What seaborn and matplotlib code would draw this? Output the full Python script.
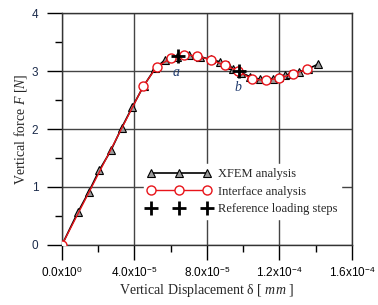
import numpy as np
import matplotlib
matplotlib.use('Agg')
import matplotlib.pyplot as plt
import seaborn as sns
from matplotlib.ticker import MultipleLocator, FixedLocator

# Datos (desplazamiento en mm, fuerza en N)
xfem_x = [0.0, 8.7e-6, 14.7e-6, 20.6e-6, 27.0e-6, 32.9e-6, 38.8e-6, 45.0e-6,
          51.5e-6, 56.8e-6, 63.5e-6, 70.0e-6, 76.0e-6, 82.0e-6, 87.2e-6,
          91.8e-6, 94.5e-6, 99.0e-6, 104.0e-6, 109.0e-6, 116.6e-6, 119.5e-6,
          123.0e-6, 126.0e-6, 131.0e-6, 136.0e-6, 141.4e-6]
xfem_y = [0.0, 0.56, 0.91, 1.29, 1.63, 2.02, 2.38, 2.74,
          3.05, 3.19, 3.25, 3.27, 3.25, 3.20, 3.16,
          3.10, 3.03, 2.97, 2.90, 2.86, 2.87, 2.89,
          2.93, 2.95, 2.99, 3.04, 3.12]

inter_x = [0.0, 44.9e-6, 52.2e-6, 60.0e-6, 67.5e-6, 74.7e-6, 82.2e-6, 89.8e-6,
           97.3e-6, 104.8e-6, 112.6e-6, 120.0e-6, 127.6e-6, 135.0e-6]
inter_y = [0.0, 2.74, 3.07, 3.22, 3.28, 3.26, 3.19, 3.10,
           3.00, 2.86, 2.84, 2.88, 2.95, 3.03]

ref_x = [63.8e-6, 97.7e-6]
ref_y = [3.26, 3.00]
ref_labels = ['a', 'b']

x_ticks = [0.0, 4e-5, 8e-5, 1.2e-4, 1.6e-4]
x_ticklabels = [r'0.0x10$^{0}$', r'4.0x10$^{-5}$', r'8.0x10$^{-5}$',
                r'1.2x10$^{-4}$', r'1.6x10$^{-4}$']
y_ticks = [0, 1, 2, 3, 4]

sns.set_style('white')
plt.rcParams['font.family'] = ['Liberation Sans', 'DejaVu Sans']
plt.rcParams['mathtext.fontset'] = 'custom'
plt.rcParams['mathtext.it'] = 'Liberation Serif:italic'
plt.rcParams['mathtext.rm'] = 'Liberation Sans'

fig = plt.figure(figsize=(3.78, 3.05), dpi=100)
ax = fig.add_axes([0.164, 0.197, 0.767, 0.760])

sns.lineplot(x=xfem_x, y=xfem_y, sort=False, errorbar=None, ax=ax,
             color='black', linewidth=1.2, marker='^', markersize=6,
             markerfacecolor='#9a9a9a', markeredgecolor='black',
             markeredgewidth=0.8, label='XFEM analysis', zorder=3)
sns.lineplot(x=inter_x, y=inter_y, sort=False, errorbar=None, ax=ax,
             color='#e8141a', linewidth=1.0, marker='o', markersize=6.5,
             markerfacecolor='white', markeredgecolor='#e8141a',
             markeredgewidth=1.0, label='Interface analysis', zorder=4)
sns.lineplot(x=ref_x, y=ref_y, sort=False, errorbar=None, ax=ax,
             color='black', linestyle='', marker='+', markersize=10,
             markeredgecolor='black', markeredgewidth=2.0,
             label='Reference loading steps', zorder=5)

for xv, yv, lab in zip(ref_x, ref_y, ref_labels):
    ax.annotate(lab, (xv, yv), xytext=(-1, -12), textcoords='offset points',
                ha='center', va='center', fontsize=10, style='italic',
                family='Liberation Serif', color='#1f3a6e')

ax.set_xlim(0, 1.6e-4)
ax.set_ylim(0, 4)
ax.xaxis.set_major_locator(FixedLocator(x_ticks))
ax.set_xticklabels(x_ticklabels)
ax.xaxis.set_minor_locator(MultipleLocator(2e-5))
ax.yaxis.set_major_locator(FixedLocator(y_ticks))
ax.yaxis.set_minor_locator(MultipleLocator(0.5))

ax.grid(True, which='major', color='#444444', linewidth=1.0)
ax.set_axisbelow(True)
for sp in ax.spines.values():
    sp.set_color('#333333')
    sp.set_linewidth(1.0)

ax.tick_params(axis='both', which='both', bottom=True, left=True,
               top=False, right=False)
ax.tick_params(axis='both', which='major', direction='out', length=11,
               width=1.0, labelsize=8.5, colors='black')
ax.tick_params(axis='both', which='minor', direction='out', length=5,
               width=1.0, color='black')
ax.tick_params(axis='x', which='major', pad=4)
ax.tick_params(axis='y', which='major', pad=6)
for lab in ax.get_yticklabels():
    lab.set_color('#1a2a4a')

ax.set_xlabel(r'Vertical Displacement δ [ $\mathit{mm}$ ]',
              family='Liberation Serif', fontsize=10, labelpad=1)
ax.set_ylabel(r'Vertical force $\mathit{F}$ [$\mathit{N}$]',
              family='Liberation Serif', fontsize=10, labelpad=2)

leg = ax.legend(loc='lower right', bbox_to_anchor=(0.985, 0.085),
                numpoints=3, handlelength=5.1, handletextpad=0.55,
                labelspacing=0.45, frameon=True, framealpha=1.0,
                edgecolor='white', fancybox=False, borderpad=0.3,
                prop={'family': 'Liberation Serif', 'size': 9})

fig.savefig('out.png', dpi=100)
